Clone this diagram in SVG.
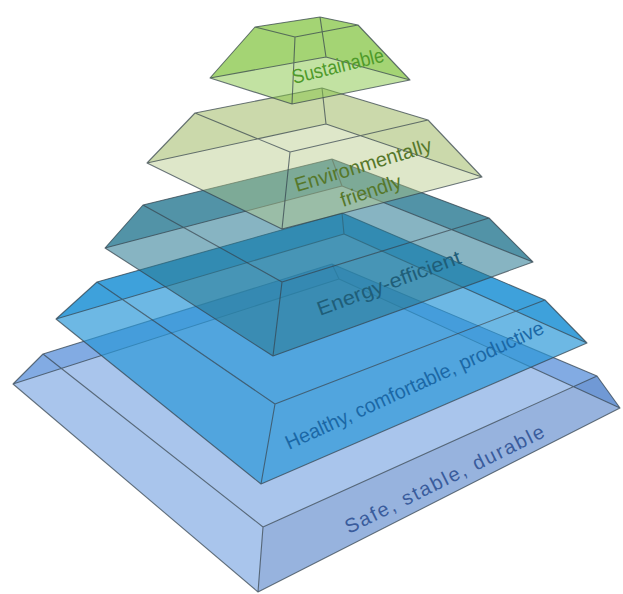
<svg xmlns="http://www.w3.org/2000/svg" width="623" height="594" viewBox="0 0 623 594">
<style>
.l1{fill:#85c545;fill-opacity:0.5}
.l2{fill:#b3c985;fill-opacity:0.44}
.l3{fill:#297992;fill-opacity:0.56}
.l4{fill:#2896d7;fill-opacity:0.68}
.l5{fill:#6396dc;fill-opacity:0.55}
.l5f{fill:#4274c2;fill-opacity:0.55}
.edge{fill:none;stroke:#34424c;stroke-opacity:0.72;stroke-width:1.1;stroke-linejoin:round}
.lbl{font-family:"Liberation Sans",Arial,sans-serif;font-size:20px}
</style>
<rect width="623" height="594" fill="#ffffff"/>
<g id="layer-safe">
<polygon class="l5" points="43,354 332,264 339,279 13,384"/>
<polygon class="l5" points="332,264 597,376 620,408 339,279"/>
<polygon class="l5" points="43,354 332,264 597,376 263,527"/>
<polygon class="l5" points="43,354 263,527 258,592 13,384"/>
<polygon class="l5f" points="263,527 597,376 620,408 258,592"/>
<path class="edge" d="M43,354 L332,264 L597,376 L263,527 Z M13,384 L339,279 L620,408 L258,592 Z M43,354 L13,384 M332,264 L339,279 M597,376 L620,408 M263,527 L258,592"/>
<text class="lbl" x="349" y="534" font-size="21" fill="#3a5c9c" textLength="220" lengthAdjust="spacing" transform="rotate(-26.4 349 534)">Safe, stable, durable</text>
</g>
<g id="layer-healthy">
<polygon class="l4" points="97,282 342,213 344,234 56,319"/>
<polygon class="l4" points="342,213 545,300 587,343 344,234"/>
<polygon class="l4" points="97,282 342,213 545,300 275,404"/>
<polygon class="l4" points="97,282 275,404 261,484 56,319"/>
<polygon class="l4" points="275,404 545,300 587,343 261,484"/>
<path class="edge" d="M97,282 L342,213 L545,300 L275,404 Z M56,319 L344,234 L587,343 L261,484 Z M97,282 L56,319 M342,213 L344,234 M545,300 L587,343 M275,404 L261,484"/>
<text class="lbl" x="289" y="450" font-size="22" fill="#1b68a6" textLength="282" lengthAdjust="spacingAndGlyphs" transform="rotate(-24.6 289 450)">Healthy, comfortable, productive</text>
</g>
<g id="layer-energy">
<polygon class="l3" points="143,205 332,159 342,186 105,248"/>
<polygon class="l3" points="332,159 489,218 533,262 342,186"/>
<polygon class="l3" points="143,205 332,159 489,218 282,282"/>
<polygon class="l3" points="143,205 282,282 273,356 105,248"/>
<polygon class="l3" points="282,282 489,218 533,262 273,356"/>
<path class="edge" d="M143,205 L332,159 L489,218 L282,282 Z M105,248 L342,186 L533,262 L273,356 Z M143,205 L105,248 M332,159 L342,186 M489,218 L533,262 M282,282 L273,356"/>
<text class="lbl" x="320" y="316" font-size="23" fill="#1f5e79" textLength="152" lengthAdjust="spacingAndGlyphs" transform="rotate(-20.5 320 316)">Energy-efficient</text>
</g>
<g id="layer-environment">
<polygon class="l2" points="195,113 322,88 326,124 147,163"/>
<polygon class="l2" points="322,88 428,120 482,177 326,124"/>
<polygon class="l2" points="195,113 322,88 428,120 290,152"/>
<polygon class="l2" points="195,113 290,152 282,229 147,163"/>
<polygon class="l2" points="290,152 428,120 482,177 282,229"/>
<path class="edge" d="M195,113 L322,88 L428,120 L290,152 Z M147,163 L326,124 L482,177 L282,229 Z M195,113 L147,163 M322,88 L326,124 M428,120 L482,177 M290,152 L282,229"/>
<text class="lbl" x="297" y="192" font-size="22" fill="#56782b" textLength="142" lengthAdjust="spacingAndGlyphs" transform="rotate(-16.7 297 192)">Environmentally</text>
<text class="lbl" x="343" y="207" font-size="22" fill="#56782b" textLength="63" lengthAdjust="spacingAndGlyphs" transform="rotate(-18.4 343 207)">friendly</text>
</g>
<g id="layer-sustainable">
<polygon class="l1" points="255,27 320,17 326,57 210,78"/>
<polygon class="l1" points="320,17 358,25 410,80 326,57"/>
<polygon class="l1" points="255,27 320,17 358,25 295,37"/>
<polygon class="l1" points="255,27 295,37 292,104 210,78"/>
<polygon class="l1" points="295,37 358,25 410,80 292,104"/>
<path class="edge" d="M255,27 L320,17 L358,25 L295,37 Z M210,78 L326,57 L410,80 L292,104 Z M255,27 L210,78 M320,17 L326,57 M358,25 L410,80 M295,37 L292,104"/>
<text class="lbl" x="294" y="84" font-size="21" fill="#4f9a2a" textLength="94" lengthAdjust="spacingAndGlyphs" transform="rotate(-14 294 84)">Sustainable</text>
</g>
</svg>
